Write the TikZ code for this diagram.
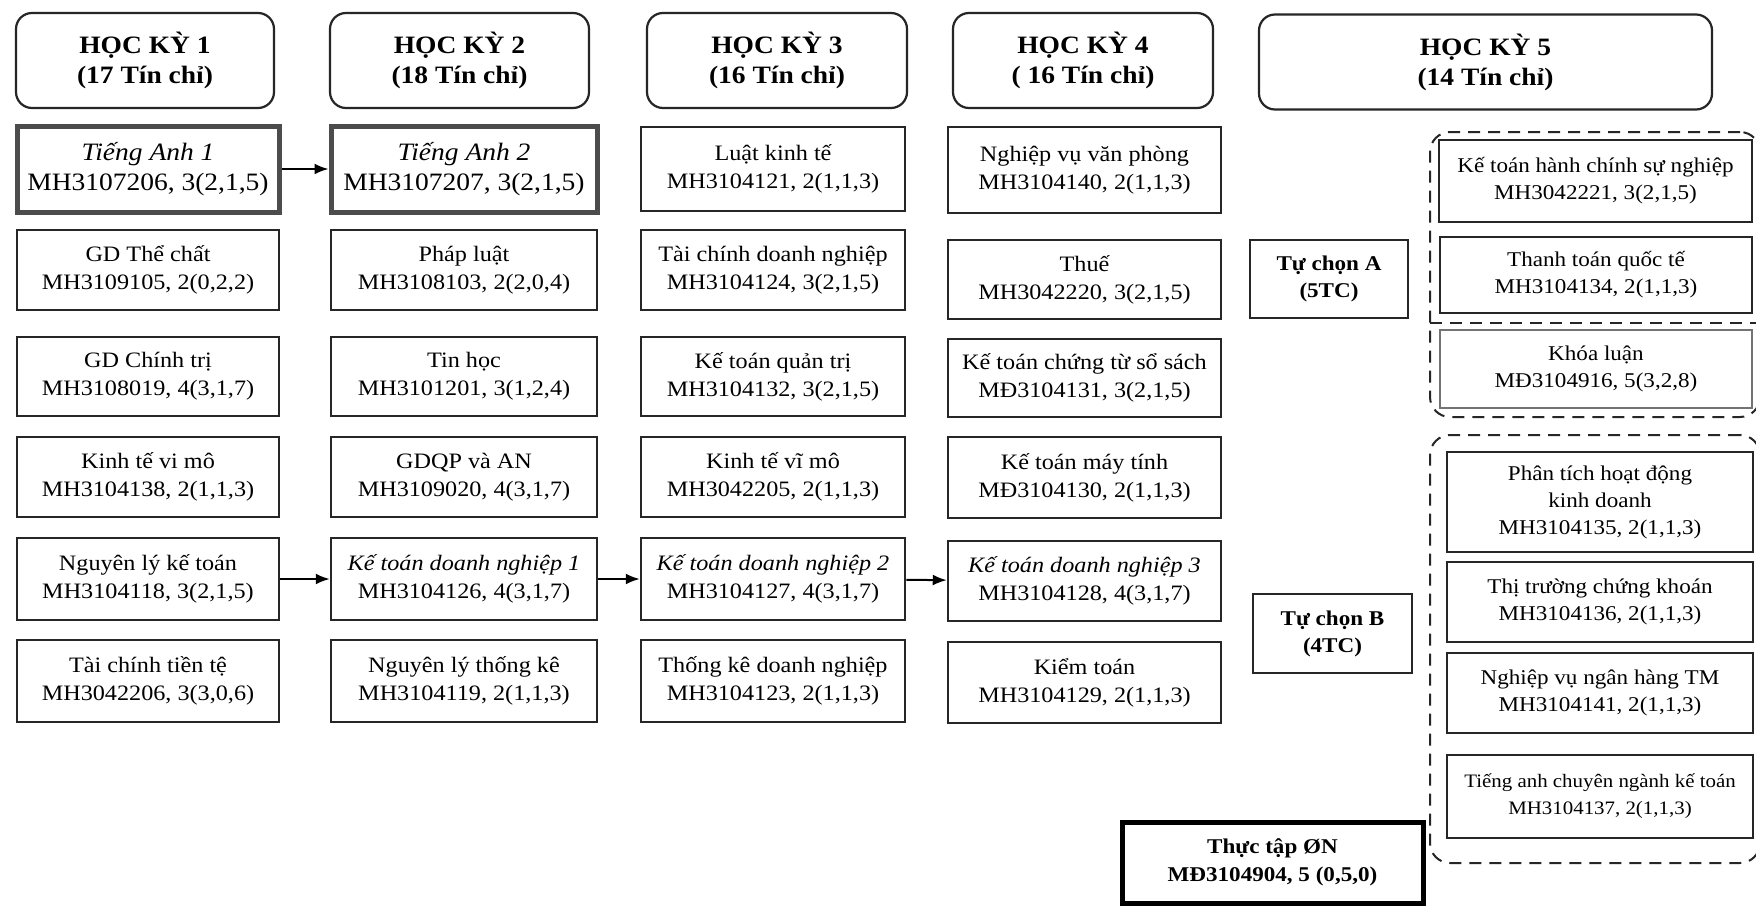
\documentclass[tikz,border=0pt]{standalone}
\usepackage{fontspec}
\setmainfont{Liberation Serif}[FakeStretch=1.1]
\usetikzlibrary{arrows.meta}
\tikzset{
  hdr/.style={draw=black!85, line width=2.2pt, rounded corners=16pt, align=center,
    font=\fontsize{25}{30}\selectfont\bfseries, inner sep=0pt},
  course/.style={draw=black!85, line width=2.5pt, align=center,
    font=\fontsize{22}{28}\selectfont, inner sep=0pt},
  thickcourse/.style={course, draw=black!70, line width=5pt,
    font=\fontsize{25}{30}\selectfont},
  optcourse/.style={course, font=\fontsize{21}{27}\selectfont},
  smallcourse/.style={course, font=\fontsize{19}{27}\selectfont},
  greycourse/.style={optcourse, draw=black!55},
  choice/.style={draw=black!85, line width=2.5pt, align=center,
    font=\fontsize{21}{27}\selectfont\bfseries, inner sep=0pt},
  intern/.style={draw=black, line width=5pt, align=center,
    font=\fontsize{21}{28}\selectfont\bfseries, inner sep=0pt},
  grp/.style={draw=black!85, line width=2pt, dash pattern=on 12pt off 8pt, rounded corners=20pt},
  grpline/.style={draw=black!85, line width=2pt, dash pattern=on 12pt off 8pt},
  flow/.style={draw=black, line width=2pt, -{Latex[length=14pt,width=11pt]}},
  sz/.style 2 args={minimum width=#1pt, minimum height=#2pt}
}
\begin{document}
\begin{tikzpicture}[x=1pt,y=-1pt]
\useasboundingbox[fill=white] (0,0) rectangle (1756,905);

% headers
\node[hdr, sz={258}{95}] (h1) at (145,60.5) {HỌC KỲ 1\\(17 Tín chỉ)};
\node[hdr, sz={259}{95}] (h2) at (459.5,60.5) {HỌC KỲ 2\\(18 Tín chỉ)};
\node[hdr, sz={260}{95}] (h3) at (777,60.5) {HỌC KỲ 3\\(16 Tín chỉ)};
\node[hdr, sz={260}{95}] (h4) at (1083,60.5) {HỌC KỲ 4\\( 16 Tín chỉ)};
\node[hdr, sz={453}{95}] (h5) at (1485.5,62) {HỌC KỲ 5\\(14 Tín chỉ)};

% column 1
\node[thickcourse, sz={262}{86}] (a1) at (148,169) {\itshape Tiếng Anh 1\\MH3107206, 3(2,1,5)};
\node[course, sz={262}{80}] (a2) at (148,270) {GD Thể chất\\MH3109105, 2(0,2,2)};
\node[course, sz={262}{79}] (a3) at (148,376.5) {GD Chính trị\\MH3108019, 4(3,1,7)};
\node[course, sz={262}{80}] (a4) at (148,477) {Kinh tế vi mô\\MH3104138, 2(1,1,3)};
\node[course, sz={262}{82}] (a5) at (148,579) {Nguyên lý kế toán\\MH3104118, 3(2,1,5)};
\node[course, sz={262}{82}] (a6) at (148,681) {Tài chính tiền tệ\\MH3042206, 3(3,0,6)};

% column 2
\node[thickcourse, sz={266}{86}] (b1) at (464,169) {\itshape Tiếng Anh 2\\MH3107207, 3(2,1,5)};
\node[course, sz={266}{80}] (b2) at (464,270) {Pháp luật\\MH3108103, 2(2,0,4)};
\node[course, sz={266}{79}] (b3) at (464,376.5) {Tin học\\MH3101201, 3(1,2,4)};
\node[course, sz={266}{80}] (b4) at (464,477) {GDQP và AN\\MH3109020, 4(3,1,7)};
\node[course, sz={266}{82}] (b5) at (464,579) {\textit{Kế toán doanh nghiệp 1}\\MH3104126, 4(3,1,7)};
\node[course, sz={266}{82}] (b6) at (464,681) {Nguyên lý thống kê\\MH3104119, 2(1,1,3)};

% column 3
\node[course, sz={264}{84}] (c1) at (773,169) {Luật kinh tế\\MH3104121, 2(1,1,3)};
\node[course, sz={264}{80}] (c2) at (773,270) {Tài chính doanh nghiệp\\MH3104124, 3(2,1,5)};
\node[course, sz={264}{79}] (c3) at (773,376.5) {Kế toán quản trị\\MH3104132, 3(2,1,5)};
\node[course, sz={264}{80}] (c4) at (773,477) {Kinh tế vĩ mô\\MH3042205, 2(1,1,3)};
\node[course, sz={264}{82}] (c5) at (773,579) {\textit{Kế toán doanh nghiệp 2}\\MH3104127, 4(3,1,7)};
\node[course, sz={264}{82}] (c6) at (773,681) {Thống kê doanh nghiệp\\MH3104123, 2(1,1,3)};

% column 4
\node[course, sz={273}{86}] (d1) at (1084.5,170) {Nghiệp vụ văn phòng\\MH3104140, 2(1,1,3)};
\node[course, sz={273}{79}] (d2) at (1084.5,279.5) {Thuế\\MH3042220, 3(2,1,5)};
\node[course, sz={273}{78}] (d3) at (1084.5,378) {Kế toán chứng từ sổ sách\\MĐ3104131, 3(2,1,5)};
\node[course, sz={273}{81}] (d4) at (1084.5,477.5) {Kế toán máy tính\\MĐ3104130, 2(1,1,3)};
\node[course, sz={273}{80}] (d5) at (1084.5,581) {\textit{Kế toán doanh nghiệp 3}\\MH3104128, 4(3,1,7)};
\node[course, sz={273}{81}] (d6) at (1084.5,682.5) {Kiểm toán\\MH3104129, 2(1,1,3)};

% elective labels
\node[choice, sz={158}{78}] (tA) at (1329,279) {Tự chọn A\\(5TC)};
\node[choice, sz={159}{79}] (tB) at (1332.5,633.5) {Tự chọn B\\(4TC)};

% internship
\node[intern, sz={301}{81}] (tt) at (1272.5,862.5) {Thực tập ØN\\MĐ3104904, 5 (0,5,0)};

% elective groups
\node[grp, sz={330}{285}] (gA) at (1595,274.5) {};
\coordinate (dL) at (1430,323);
\coordinate (dR) at (1760,323);
\draw[grpline] (dL) -- (dR);
\node[grp, sz={330}{428}] (gB) at (1595,649) {};

\node[optcourse, sz={313}{82}] (e1) at (1595.5,181) {Kế toán hành chính sự nghiệp\\MH3042221, 3(2,1,5)};
\node[optcourse, sz={312}{76}] (e2) at (1596,275) {Thanh toán quốc tế\\MH3104134, 2(1,1,3)};
\node[greycourse, sz={312}{78}] (e3) at (1596,369) {Khóa luận\\MĐ3104916, 5(3,2,8)};

\node[optcourse, sz={306}{100}] (f1) at (1600,502) {Phân tích hoạt động\\kinh doanh\\MH3104135, 2(1,1,3)};
\node[optcourse, sz={306}{80}] (f2) at (1600,602) {Thị trường chứng khoán\\MH3104136, 2(1,1,3)};
\node[optcourse, sz={306}{80}] (f3) at (1600,693) {Nghiệp vụ ngân hàng TM\\MH3104141, 2(1,1,3)};
\node[smallcourse, sz={306}{83}] (f4) at (1600,796.5) {Tiếng anh chuyên ngành kế toán\\MH3104137, 2(1,1,3)};

% arrows
\draw[flow] (a1) -- (b1);
\draw[flow] (a5) -- (b5);
\draw[flow] (b5) -- (c5);
\draw[flow] (c5) -- (d5);
\end{tikzpicture}
\end{document}
